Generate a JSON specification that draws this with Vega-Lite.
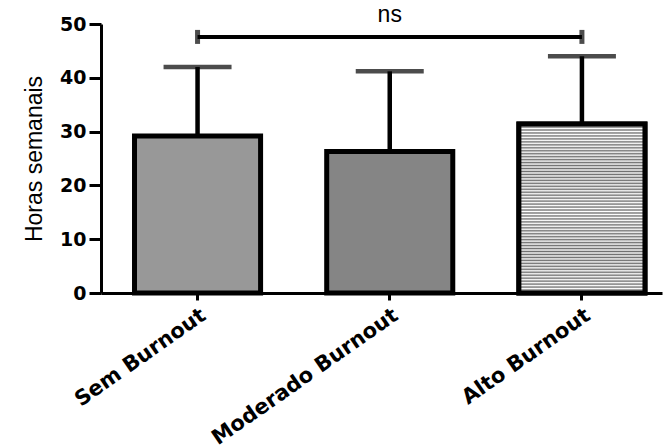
{
  "$schema": "https://vega.github.io/schema/vega-lite/v6.json",
  "width": 561,
  "height": 269,
  "autosize": "none",
  "padding": {"left": 101, "top": 24, "right": 5, "bottom": 155},
  "background": "white",
  "config": {"view": {"stroke": null}},
  "datasets": {
    "barras": [
      {"grupo": "Sem Burnout", "media": 29.2, "superior": 42.0},
      {"grupo": "Moderado Burnout", "media": 26.3, "superior": 41.2},
      {"grupo": "Alto Burnout", "media": 31.4, "superior": 44.0}
    ],
    "chave": [{"inicio": "Sem Burnout", "fim": "Alto Burnout", "y": 47.6, "rotulo": "ns", "meio": "Moderado Burnout", "ytexto": 50.4}],
    "pontas": [{"grupo": "Sem Burnout", "y": 47.6}, {"grupo": "Alto Burnout", "y": 47.6}]
  },
  "layer": [
    {
      "data": {"name": "barras"},
      "mark": {"type": "rule", "color": "black", "strokeWidth": 4.5},
      "encoding": {
        "x": {"field": "grupo", "type": "nominal", "sort": null},
        "y": {"field": "media", "type": "quantitative"},
        "y2": {"field": "superior"}
      }
    },
    {
      "data": {"name": "barras"},
      "mark": {"type": "tick", "orient": "horizontal", "color": "black", "size": 68, "thickness": 4.5},
      "encoding": {
        "x": {"field": "grupo", "type": "nominal", "sort": null},
        "y": {"field": "superior", "type": "quantitative"}
      }
    },
    {
      "data": {"name": "barras"},
      "mark": {"type": "bar", "stroke": "black", "strokeWidth": 5, "strokeJoin": "miter"},
      "encoding": {
        "x": {
          "field": "grupo", "type": "nominal", "sort": null,
          "scale": {"domain": ["Sem Burnout", "Moderado Burnout", "Alto Burnout"], "paddingInner": 0.344, "paddingOuter": 0.1315, "align": 0.663},
          "axis": {
            "title": null, "labelAngle": -35, "labelFont": "DejaVu Sans", "labelFontWeight": "bold", "labelFontSize": 21,
            "labelColor": "black", "labelPadding": 4, "tickSize": 7, "tickWidth": 3, "tickColor": "black", "labelLimit": 0,
            "domainColor": "black", "domainWidth": 3, "labelAlign": "right", "labelBaseline": "top", "labelOverlap": false
          }
        },
        "y": {
          "field": "media", "type": "quantitative",
          "scale": {"domain": [0, 50], "nice": false, "zero": true},
          "axis": {
            "title": "Horas semanais", "titleFont": "Liberation Sans", "titleFontSize": 23, "titleFontWeight": "normal",
            "titleColor": "black", "titlePadding": 13,
            "values": [0, 10, 20, 30, 40, 50], "grid": false,
            "labelFont": "DejaVu Sans", "labelFontWeight": "bold", "labelFontSize": 19, "labelColor": "black", "labelPadding": 3,
            "tickSize": 12, "tickWidth": 3, "tickColor": "black", "domainColor": "black", "domainWidth": 3
          }
        },
        "fill": {
          "field": "grupo", "type": "nominal",
          "scale": {"domain": ["Sem Burnout", "Moderado Burnout", "Alto Burnout"], "range": ["#989898", "#858585", "#c4c4c4"]},
          "legend": null
        }
      }
    },
    {
      "data": {"name": "barras"},
      "transform": [{"filter": "datum.grupo === 'Alto Burnout'"}],
      "mark": {
        "type": "bar", "stroke": "black", "strokeWidth": 5, "strokeJoin": "miter",
        "fill": {
          "gradient": "linear", "x1": 0, "y1": 0, "x2": 0, "y2": 1,
          "stops": [
            {"offset": 0, "color": "#707070"}, {"offset": 0.0088, "color": "#ffffff"},
            {"offset": 0.0175, "color": "#707070"}, {"offset": 0.0263, "color": "#ffffff"},
            {"offset": 0.0351, "color": "#707070"}, {"offset": 0.0439, "color": "#ffffff"},
            {"offset": 0.0526, "color": "#707070"}, {"offset": 0.0614, "color": "#ffffff"},
            {"offset": 0.0702, "color": "#707070"}, {"offset": 0.0789, "color": "#ffffff"},
            {"offset": 0.0877, "color": "#707070"}, {"offset": 0.0965, "color": "#ffffff"},
            {"offset": 0.1053, "color": "#707070"}, {"offset": 0.1140, "color": "#ffffff"},
            {"offset": 0.1228, "color": "#707070"}, {"offset": 0.1316, "color": "#ffffff"},
            {"offset": 0.1404, "color": "#707070"}, {"offset": 0.1491, "color": "#ffffff"},
            {"offset": 0.1579, "color": "#707070"}, {"offset": 0.1667, "color": "#ffffff"},
            {"offset": 0.1754, "color": "#707070"}, {"offset": 0.1842, "color": "#ffffff"},
            {"offset": 0.1930, "color": "#707070"}, {"offset": 0.2018, "color": "#ffffff"},
            {"offset": 0.2105, "color": "#707070"}, {"offset": 0.2193, "color": "#ffffff"},
            {"offset": 0.2281, "color": "#707070"}, {"offset": 0.2368, "color": "#ffffff"},
            {"offset": 0.2456, "color": "#707070"}, {"offset": 0.2544, "color": "#ffffff"},
            {"offset": 0.2632, "color": "#707070"}, {"offset": 0.2719, "color": "#ffffff"},
            {"offset": 0.2807, "color": "#707070"}, {"offset": 0.2895, "color": "#ffffff"},
            {"offset": 0.2982, "color": "#707070"}, {"offset": 0.3070, "color": "#ffffff"},
            {"offset": 0.3158, "color": "#707070"}, {"offset": 0.3246, "color": "#ffffff"},
            {"offset": 0.3333, "color": "#707070"}, {"offset": 0.3421, "color": "#ffffff"},
            {"offset": 0.3509, "color": "#707070"}, {"offset": 0.3596, "color": "#ffffff"},
            {"offset": 0.3684, "color": "#707070"}, {"offset": 0.3772, "color": "#ffffff"},
            {"offset": 0.3860, "color": "#707070"}, {"offset": 0.3947, "color": "#ffffff"},
            {"offset": 0.4035, "color": "#707070"}, {"offset": 0.4123, "color": "#ffffff"},
            {"offset": 0.4211, "color": "#707070"}, {"offset": 0.4298, "color": "#ffffff"},
            {"offset": 0.4386, "color": "#707070"}, {"offset": 0.4474, "color": "#ffffff"},
            {"offset": 0.4561, "color": "#707070"}, {"offset": 0.4649, "color": "#ffffff"},
            {"offset": 0.4737, "color": "#707070"}, {"offset": 0.4825, "color": "#ffffff"},
            {"offset": 0.4912, "color": "#707070"}, {"offset": 0.5000, "color": "#ffffff"},
            {"offset": 0.5088, "color": "#707070"}, {"offset": 0.5175, "color": "#ffffff"},
            {"offset": 0.5263, "color": "#707070"}, {"offset": 0.5351, "color": "#ffffff"},
            {"offset": 0.5439, "color": "#707070"}, {"offset": 0.5526, "color": "#ffffff"},
            {"offset": 0.5614, "color": "#707070"}, {"offset": 0.5702, "color": "#ffffff"},
            {"offset": 0.5789, "color": "#707070"}, {"offset": 0.5877, "color": "#ffffff"},
            {"offset": 0.5965, "color": "#707070"}, {"offset": 0.6053, "color": "#ffffff"},
            {"offset": 0.6140, "color": "#707070"}, {"offset": 0.6228, "color": "#ffffff"},
            {"offset": 0.6316, "color": "#707070"}, {"offset": 0.6404, "color": "#ffffff"},
            {"offset": 0.6491, "color": "#707070"}, {"offset": 0.6579, "color": "#ffffff"},
            {"offset": 0.6667, "color": "#707070"}, {"offset": 0.6754, "color": "#ffffff"},
            {"offset": 0.6842, "color": "#707070"}, {"offset": 0.6930, "color": "#ffffff"},
            {"offset": 0.7018, "color": "#707070"}, {"offset": 0.7105, "color": "#ffffff"},
            {"offset": 0.7193, "color": "#707070"}, {"offset": 0.7281, "color": "#ffffff"},
            {"offset": 0.7368, "color": "#707070"}, {"offset": 0.7456, "color": "#ffffff"},
            {"offset": 0.7544, "color": "#707070"}, {"offset": 0.7632, "color": "#ffffff"},
            {"offset": 0.7719, "color": "#707070"}, {"offset": 0.7807, "color": "#ffffff"},
            {"offset": 0.7895, "color": "#707070"}, {"offset": 0.7982, "color": "#ffffff"},
            {"offset": 0.8070, "color": "#707070"}, {"offset": 0.8158, "color": "#ffffff"},
            {"offset": 0.8246, "color": "#707070"}, {"offset": 0.8333, "color": "#ffffff"},
            {"offset": 0.8421, "color": "#707070"}, {"offset": 0.8509, "color": "#ffffff"},
            {"offset": 0.8596, "color": "#707070"}, {"offset": 0.8684, "color": "#ffffff"},
            {"offset": 0.8772, "color": "#707070"}, {"offset": 0.8860, "color": "#ffffff"},
            {"offset": 0.8947, "color": "#707070"}, {"offset": 0.9035, "color": "#ffffff"},
            {"offset": 0.9123, "color": "#707070"}, {"offset": 0.9211, "color": "#ffffff"},
            {"offset": 0.9298, "color": "#707070"}, {"offset": 0.9386, "color": "#ffffff"},
            {"offset": 0.9474, "color": "#707070"}, {"offset": 0.9561, "color": "#ffffff"},
            {"offset": 0.9649, "color": "#707070"}, {"offset": 0.9737, "color": "#ffffff"},
            {"offset": 0.9825, "color": "#707070"}, {"offset": 0.9912, "color": "#ffffff"},
            {"offset": 1, "color": "#707070"}
          ]
        }
      },
      "encoding": {
        "x": {"field": "grupo", "type": "nominal", "sort": null},
        "y": {"field": "media", "type": "quantitative"}
      }
    },
    {
      "data": {"name": "chave"},
      "mark": {"type": "rule", "color": "black", "strokeWidth": 4},
      "encoding": {
        "x": {"field": "inicio", "type": "nominal", "sort": null},
        "x2": {"field": "fim"},
        "y": {"field": "y", "type": "quantitative"}
      }
    },
    {
      "data": {"name": "pontas"},
      "mark": {"type": "tick", "orient": "vertical", "color": "black", "size": 14, "thickness": 5},
      "encoding": {
        "x": {"field": "grupo", "type": "nominal", "sort": null},
        "y": {"field": "y", "type": "quantitative"}
      }
    },
    {
      "data": {"name": "chave"},
      "mark": {"type": "text", "font": "Liberation Sans", "fontSize": 23, "color": "black", "baseline": "alphabetic", "align": "center"},
      "encoding": {
        "x": {"field": "meio", "type": "nominal", "sort": null},
        "y": {"field": "ytexto", "type": "quantitative"},
        "text": {"field": "rotulo"}
      }
    }
  ]
}
